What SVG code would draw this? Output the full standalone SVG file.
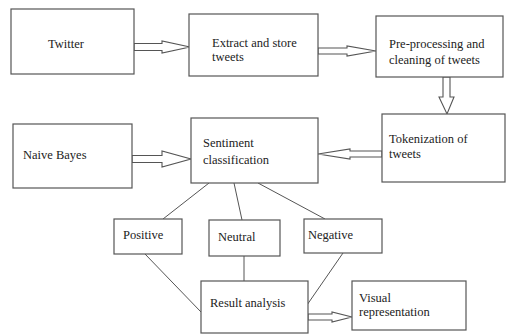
<svg xmlns="http://www.w3.org/2000/svg" width="506" height="336" viewBox="0 0 506 336">
<style>
.box{fill:#fff;stroke:#555;stroke-width:1.2}
text{font-family:'Liberation Serif','Times New Roman','DejaVu Serif',serif;font-size:12.5px;fill:#222}
.ln{stroke:#555;stroke-width:1;fill:none}
.ar{fill:#fff;stroke:#555;stroke-width:1.1;stroke-linejoin:miter}
</style>
<rect width="506" height="336" fill="#fff"/>
<g id="connectors">
<line class="ln" x1="209" y1="183" x2="163" y2="219"/>
<line class="ln" x1="234" y1="183" x2="242" y2="220"/>
<line class="ln" x1="258" y1="183" x2="325" y2="219"/>
<line class="ln" x1="145" y1="254" x2="201" y2="312"/>
<line class="ln" x1="244" y1="256" x2="244" y2="281"/>
<line class="ln" x1="343" y1="253" x2="307" y2="305"/>
<polygon class="ar" points="134,43.5 162,43.5 162,41 190,47 162,53 162,50.5 134,50.5"/>
<polygon class="ar" points="318,48 347,48 347,46 376,51 347,56 347,54 318,54"/>
<polygon class="ar" points="443,77 450,77 450,97 454,97 447,114 439,97 443,97"/>
<polygon class="ar" points="132,155.5 162,155.5 162,151 191,159 162,167 162,162.5 132,162.5"/>
<polygon class="ar" points="382,151 350,151 350,149 318,154 350,159 350,157 382,157"/>
<polygon class="ar" points="308,314 332,314 332,312 352,317 332,322 332,320 308,320"/>
</g>
<g id="twitter"><rect class="box" x="11" y="9" width="123" height="65"/><text x="48" y="48">Twitter</text></g>
<g id="extract"><rect class="box" x="189" y="14" width="129" height="62"/><text x="212" y="47">Extract and store</text><text x="212" y="61">tweets</text></g>
<g id="preprocessing"><rect class="box" x="376" y="16" width="127" height="61"/><text x="389" y="48">Pre-processing and</text><text x="389" y="64">cleaning of tweets</text></g>
<g id="tokenization"><rect class="box" x="382" y="114" width="123" height="68"/><text x="389" y="143">Tokenization of</text><text x="389" y="158">tweets</text></g>
<g id="naive-bayes"><rect class="box" x="13" y="124" width="119" height="64"/><text x="23" y="159">Naive Bayes</text></g>
<g id="sentiment"><rect class="box" x="191" y="118" width="127" height="65"/><text x="203" y="147">Sentiment</text><text x="203" y="164">classification</text></g>
<g id="positive"><rect class="box" x="114" y="219" width="68" height="35"/><text x="123" y="239">Positive</text></g>
<g id="neutral"><rect class="box" x="209" y="220" width="71" height="36"/><text x="218" y="241">Neutral</text></g>
<g id="negative"><rect class="box" x="304" y="219" width="78" height="34"/><text x="308" y="239">Negative</text></g>
<g id="result"><rect class="box" x="201" y="281" width="107" height="52"/><text x="210" y="307">Result analysis</text></g>
<g id="visual"><rect class="box" x="352" y="281" width="114" height="49"/><text x="359" y="302">Visual</text><text x="359" y="316">representation</text></g>
</svg>
